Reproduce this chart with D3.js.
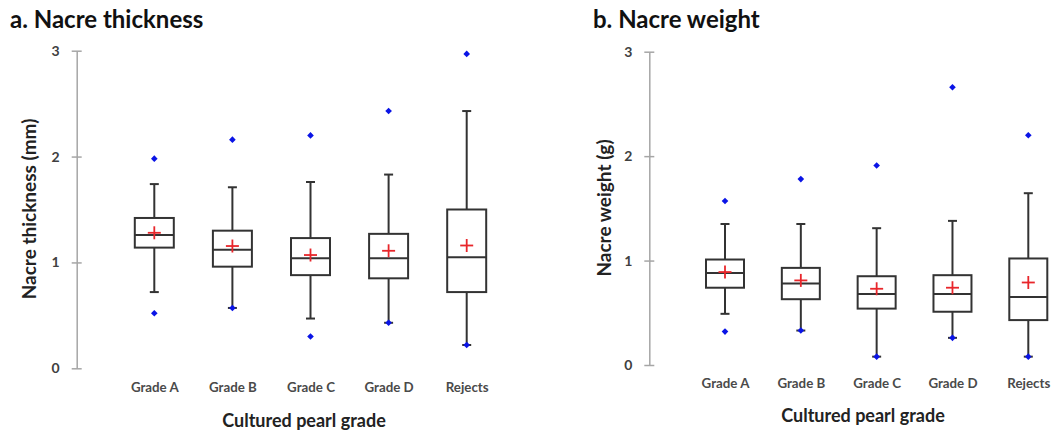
<!DOCTYPE html>
<html><head><meta charset="utf-8">
<script src="https://cdn.jsdelivr.net/npm/d3@7"></script>
<style>body{margin:0;background:#fff}svg{display:block}text{font-family:Lato,"Open Sans",sans-serif}</style>
</head><body><svg id="c" width="1055" height="433"></svg>
<script>
const grades = ["Grade A","Grade B","Grade C","Grade D","Rejects"];
const yTicks = [0,1,2,3];
// Nacre thickness (mm)
const thickMin   = [0.52,0.57,0.30,0.43,0.22];
const thickLoW   = [0.72,0.57,0.47,0.43,0.22];
const thickQ1    = [1.14,0.96,0.88,0.85,0.72];
const thickMed   = [1.26,1.12,1.04,1.04,1.05];
const thickMean  = [1.28,1.155,1.07,1.11,1.16];
const thickQ3    = [1.42,1.30,1.23,1.27,1.50];
const thickHiW   = [1.74,1.71,1.76,1.83,2.43];
const thickMax   = [1.98,2.16,2.20,2.43,2.97];
// Nacre weight (g)
const weightMin  = [0.32,0.33,0.08,0.26,0.08];
const weightLoW  = [0.49,0.33,0.08,0.26,0.08];
const weightQ1   = [0.74,0.63,0.54,0.51,0.43];
const weightMed  = [0.88,0.78,0.68,0.68,0.65];
const weightMean = [0.89,0.81,0.73,0.74,0.79];
const weightQ3   = [1.01,0.93,0.85,0.86,1.02];
const weightHiW  = [1.35,1.35,1.31,1.38,1.645];
const weightMax  = [1.57,1.78,1.91,2.66,2.20];

const svg = d3.select("#c");

function panel(opt){
  const g = svg.append("g");
  const y = d3.scaleLinear().domain([0,3]).range([opt.y0, opt.y3]);
  const x = d3.scalePoint().domain(grades).range(opt.xr);
  // title
  g.append("text").attr("x",opt.tx).attr("y",28).attr("font-size",24).attr("font-weight","bold")
    .attr("fill","#111").text(opt.title);
  // y axis
  const ax = g.append("g").attr("transform",`translate(${opt.ax},0)`)
    .call(d3.axisLeft(y).tickValues(yTicks).tickFormat(d3.format("d")).tickSizeOuter(0).tickSizeInner(5).tickPadding(12));
  ax.select(".domain").attr("stroke","#a6a6a6").attr("stroke-width",1.5);
  ax.selectAll(".tick line").attr("stroke","#a6a6a6").attr("stroke-width",1.5).attr("x1",5);
  ax.selectAll(".tick text").attr("font-size",14).attr("font-weight","bold").attr("fill","#404040")
    .style("font-family","Lato,'Open Sans',sans-serif");
  // y title
  g.append("text").attr("transform",`translate(${opt.ytx},${opt.yty}) rotate(-90)`)
    .attr("text-anchor","middle").attr("font-size",19).attr("font-weight","bold").attr("fill","#222").text(opt.ytitle);
  // x labels
  const xa = g.append("g").attr("transform",`translate(0,${opt.xly})`)
    .call(d3.axisBottom(x).tickSize(0).tickPadding(0));
  xa.select(".domain").remove();
  xa.selectAll(".tick text").attr("font-size",13.3).attr("font-weight","bold").attr("fill","#4a4a4a")
    .style("font-family","Lato,'Open Sans',sans-serif");
  g.append("text").attr("x",opt.xtx).attr("y",opt.xty).attr("text-anchor","middle")
    .attr("font-size",18).attr("font-weight","bold").attr("fill","#222").text("Cultured pearl grade");

  const d = opt.data;
  const hw = opt.bw/2, cw = 4.5;
  grades.forEach((k,i)=>{
    const cx = x(k);
    const b = g.append("g").attr("stroke","#333").attr("stroke-width",2).attr("fill","none");
    b.append("line").attr("x1",cx).attr("x2",cx).attr("y1",y(d.hiW[i])).attr("y2",y(d.q3[i]));
    b.append("line").attr("x1",cx).attr("x2",cx).attr("y1",y(d.q1[i])).attr("y2",y(d.loW[i]));
    b.append("line").attr("x1",cx-cw).attr("x2",cx+cw).attr("y1",y(d.hiW[i])).attr("y2",y(d.hiW[i]));
    b.append("line").attr("x1",cx-cw).attr("x2",cx+cw).attr("y1",y(d.loW[i])).attr("y2",y(d.loW[i]));
    b.append("rect").attr("x",cx-hw).attr("width",opt.bw).attr("y",y(d.q3[i])).attr("height",y(d.q1[i])-y(d.q3[i]));
    b.append("line").attr("x1",cx-hw).attr("x2",cx+hw).attr("y1",y(d.med[i])).attr("y2",y(d.med[i]));
    // mean +
    const my = y(d.mean[i]);
    const m = g.append("g").attr("stroke","#e8262b").attr("stroke-width",1.8);
    m.append("line").attr("x1",cx-6.5).attr("x2",cx+6.5).attr("y1",my).attr("y2",my);
    m.append("line").attr("x1",cx).attr("x2",cx).attr("y1",my-6.5).attr("y2",my+6.5);
    // min / max
    [d.min[i], d.max[i]].forEach(v=>{
      g.append("path").attr("d",d3.symbol(d3.symbolSquare,22)())
        .attr("transform",`translate(${cx},${y(v)}) rotate(45)`).attr("fill","#0a14e6");
    });
  });
}

panel({title:"a. Nacre thickness", tx:10, ax:76.7, y0:368.3, y3:50.7, xr:[154.3,466.7], bw:39,
  ytitle:"Nacre thickness (mm)", ytx:36, yty:209, xly:383, xtx:304, xty:427,
  data:{min:thickMin,loW:thickLoW,q1:thickQ1,med:thickMed,mean:thickMean,q3:thickQ3,hiW:thickHiW,max:thickMax}});
panel({title:"b. Nacre weight", tx:593, ax:649.3, y0:365, y3:51.7, xr:[725,1028.3], bw:38,
  ytitle:"Nacre weight (g)", ytx:611, yty:208, xly:379, xtx:863, xty:422,
  data:{min:weightMin,loW:weightLoW,q1:weightQ1,med:weightMed,mean:weightMean,q3:weightQ3,hiW:weightHiW,max:weightMax}});
</script></body></html>
